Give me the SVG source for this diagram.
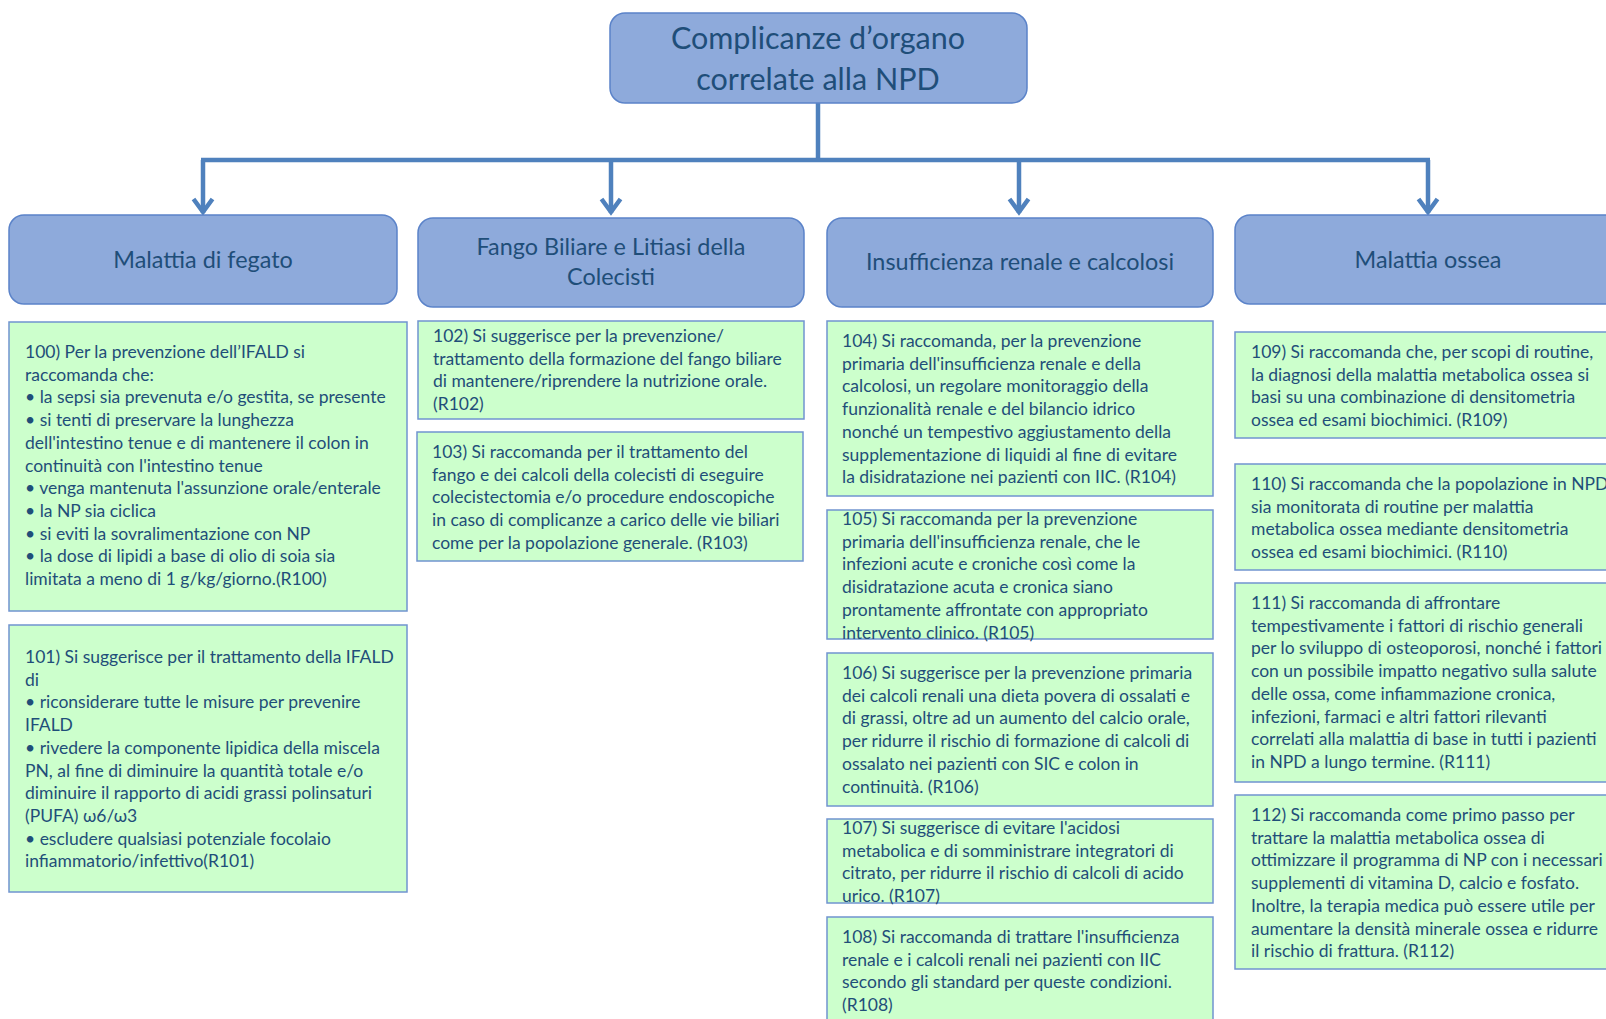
<svg xmlns="http://www.w3.org/2000/svg" width="1606" height="1019" viewBox="0 0 1606 1019">
  <defs>
    <style>
      .head { fill: #8eaadb; stroke: #5b83c9; stroke-width: 1.5; }
      .rec { fill: #ccffcc; stroke: #7094d0; stroke-width: 1.5; }
      .conn { fill: none; stroke: #4f81bd; stroke-width: 4.5; }
      .t { font-family: Lato, "Liberation Sans", sans-serif; fill: #1f4e79; }
      .title { font-size: 30.5px; text-anchor: middle; }
      .htxt { font-size: 23.4px; text-anchor: middle; }
      .body { font-size: 17.5px; }
    </style>
    <marker id="arrow" viewBox="-16 -12 20 24" refX="0" refY="0" markerWidth="20" markerHeight="24" markerUnits="userSpaceOnUse" orient="auto">
      <path d="M-14,-9.5 L-1,0 L-14,9.5" fill="none" stroke="#4f81bd" stroke-width="4.5"/>
    </marker>
  </defs>
  <rect width="1606" height="1019" fill="#ffffff"/>

  <!-- connectors -->
  <g id="connectors">
    <path class="conn" d="M818,103 V160"/>
    <path class="conn" d="M201,160 H1430"/>
    <path class="conn" d="M203,160 V213" marker-end="url(#arrow)"/>
    <path class="conn" d="M611,160 V213" marker-end="url(#arrow)"/>
    <path class="conn" d="M1019,160 V213" marker-end="url(#arrow)"/>
    <path class="conn" d="M1428,160 V213" marker-end="url(#arrow)"/>
  </g>

  <!-- root -->
  <g id="root">
    <rect class="head" x="610" y="13" width="417" height="90" rx="15"/>
    <text class="t title" x="818" y="49">Complicanze d’organo</text>
    <text class="t title" x="818" y="90">correlate alla NPD</text>
  </g>

  <!-- category headers -->
  <g id="cat-fegato">
    <rect class="head" x="9" y="215" width="388" height="89" rx="15"/>
    <text class="t htxt" x="203" y="268">Malattia di fegato</text>
  </g>
  <g id="cat-biliare">
    <rect class="head" x="418" y="218" width="386" height="89" rx="15"/>
    <text class="t htxt" x="611" y="255">Fango Biliare e Litiasi della</text>
    <text class="t htxt" x="611" y="285">Colecisti</text>
  </g>
  <g id="cat-renale">
    <rect class="head" x="827" y="218" width="386" height="89" rx="15"/>
    <text class="t htxt" x="1020" y="270">Insufficienza renale e calcolosi</text>
  </g>
  <g id="cat-ossea">
    <rect class="head" x="1235" y="215" width="388" height="89" rx="15"/>
    <text class="t htxt" x="1428" y="268">Malattia ossea</text>
  </g>

  <!-- recommendations -->
  <g id="r100">
    <rect class="rec" x="9" y="322" width="398" height="289"/>
    <text class="t body" x="25" y="358">
      <tspan x="25">100) Per la prevenzione dell’IFALD si</tspan>
      <tspan x="25" dy="22.7">raccomanda che:</tspan>
      <tspan x="25" dy="22.7">• la sepsi sia prevenuta e/o gestita, se presente</tspan>
      <tspan x="25" dy="22.7">• si tenti di preservare la lunghezza</tspan>
      <tspan x="25" dy="22.7">dell'intestino tenue e di mantenere il colon in</tspan>
      <tspan x="25" dy="22.7">continuità con l'intestino tenue</tspan>
      <tspan x="25" dy="22.7">• venga mantenuta l'assunzione orale/enterale</tspan>
      <tspan x="25" dy="22.7">• la NP sia ciclica</tspan>
      <tspan x="25" dy="22.7">• si eviti la sovralimentazione con NP</tspan>
      <tspan x="25" dy="22.7">• la dose di lipidi a base di olio di soia sia</tspan>
      <tspan x="25" dy="22.7">limitata a meno di 1 g/kg/giorno.(R100)</tspan>
    </text>
  </g>
  <g id="r101">
    <rect class="rec" x="9" y="625" width="398" height="267"/>
    <text class="t body" x="25" y="663">
      <tspan x="25">101) Si suggerisce per il trattamento della IFALD</tspan>
      <tspan x="25" dy="22.7">di</tspan>
      <tspan x="25" dy="22.7">• riconsiderare tutte le misure per prevenire</tspan>
      <tspan x="25" dy="22.7">IFALD</tspan>
      <tspan x="25" dy="22.7">• rivedere la componente lipidica della miscela</tspan>
      <tspan x="25" dy="22.7">PN, al fine di diminuire la quantità totale e/o</tspan>
      <tspan x="25" dy="22.7">diminuire il rapporto di acidi grassi polinsaturi</tspan>
      <tspan x="25" dy="22.7">(PUFA) ω6/ω3</tspan>
      <tspan x="25" dy="22.7">• escludere qualsiasi potenziale focolaio</tspan>
      <tspan x="25" dy="22.7">infiammatorio/infettivo(R101)</tspan>
    </text>
  </g>
  <g id="r102">
    <rect class="rec" x="418" y="321" width="386" height="98"/>
    <text class="t body" x="433" y="342">
      <tspan x="433">102) Si suggerisce per la prevenzione/</tspan>
      <tspan x="433" dy="22.7">trattamento della formazione del fango biliare</tspan>
      <tspan x="433" dy="22.7">di mantenere/riprendere la nutrizione orale.</tspan>
      <tspan x="433" dy="22.7">(R102)</tspan>
    </text>
  </g>
  <g id="r103">
    <rect class="rec" x="417" y="432" width="386" height="129"/>
    <text class="t body" x="432" y="458">
      <tspan x="432">103) Si raccomanda per il trattamento del</tspan>
      <tspan x="432" dy="22.7">fango e dei calcoli della colecisti di eseguire</tspan>
      <tspan x="432" dy="22.7">colecistectomia e/o procedure endoscopiche</tspan>
      <tspan x="432" dy="22.7">in caso di complicanze a carico delle vie biliari</tspan>
      <tspan x="432" dy="22.7">come per la popolazione generale. (R103)</tspan>
    </text>
  </g>
  <g id="r104">
    <rect class="rec" x="827" y="321" width="386" height="175"/>
    <text class="t body" x="842" y="347">
      <tspan x="842">104) Si raccomanda, per la prevenzione</tspan>
      <tspan x="842" dy="22.7">primaria dell'insufficienza renale e della</tspan>
      <tspan x="842" dy="22.7">calcolosi, un regolare monitoraggio della</tspan>
      <tspan x="842" dy="22.7">funzionalità renale e del bilancio idrico</tspan>
      <tspan x="842" dy="22.7">nonché un tempestivo aggiustamento della</tspan>
      <tspan x="842" dy="22.7">supplementazione di liquidi al fine di evitare</tspan>
      <tspan x="842" dy="22.7">la disidratazione nei pazienti con IIC. (R104)</tspan>
    </text>
  </g>
  <g id="r105">
    <rect class="rec" x="827" y="510" width="386" height="129"/>
    <text class="t body" x="842" y="525">
      <tspan x="842">105) Si raccomanda per la prevenzione</tspan>
      <tspan x="842" dy="22.7">primaria dell'insufficienza renale, che le</tspan>
      <tspan x="842" dy="22.7">infezioni acute e croniche così come la</tspan>
      <tspan x="842" dy="22.7">disidratazione acuta e cronica siano</tspan>
      <tspan x="842" dy="22.7">prontamente affrontate con appropriato</tspan>
      <tspan x="842" dy="22.7">intervento clinico. (R105)</tspan>
    </text>
  </g>
  <g id="r106">
    <rect class="rec" x="827" y="653" width="386" height="153"/>
    <text class="t body" x="842" y="679">
      <tspan x="842">106) Si suggerisce per la prevenzione primaria</tspan>
      <tspan x="842" dy="22.7">dei calcoli renali una dieta povera di ossalati e</tspan>
      <tspan x="842" dy="22.7">di grassi, oltre ad un aumento del calcio orale,</tspan>
      <tspan x="842" dy="22.7">per ridurre il rischio di formazione di calcoli di</tspan>
      <tspan x="842" dy="22.7">ossalato nei pazienti con SIC e colon in</tspan>
      <tspan x="842" dy="22.7">continuità. (R106)</tspan>
    </text>
  </g>
  <g id="r107">
    <rect class="rec" x="827" y="819" width="386" height="84"/>
    <text class="t body" x="842" y="834">
      <tspan x="842">107) Si suggerisce di evitare l'acidosi</tspan>
      <tspan x="842" dy="22.7">metabolica e di somministrare integratori di</tspan>
      <tspan x="842" dy="22.7">citrato, per ridurre il rischio di calcoli di acido</tspan>
      <tspan x="842" dy="22.7">urico. (R107)</tspan>
    </text>
  </g>
  <g id="r108">
    <rect class="rec" x="827" y="917" width="386" height="110"/>
    <text class="t body" x="842" y="943">
      <tspan x="842">108) Si raccomanda di trattare l'insufficienza</tspan>
      <tspan x="842" dy="22.7">renale e i calcoli renali nei pazienti con IIC</tspan>
      <tspan x="842" dy="22.7">secondo gli standard per queste condizioni.</tspan>
      <tspan x="842" dy="22.7">(R108)</tspan>
    </text>
  </g>
  <g id="r109">
    <rect class="rec" x="1235" y="332" width="388" height="106"/>
    <text class="t body" x="1251" y="358">
      <tspan x="1251">109) Si raccomanda che, per scopi di routine,</tspan>
      <tspan x="1251" dy="22.7">la diagnosi della malattia metabolica ossea si</tspan>
      <tspan x="1251" dy="22.7">basi su una combinazione di densitometria</tspan>
      <tspan x="1251" dy="22.7">ossea ed esami biochimici. (R109)</tspan>
    </text>
  </g>
  <g id="r110">
    <rect class="rec" x="1235" y="464" width="388" height="106"/>
    <text class="t body" x="1251" y="490">
      <tspan x="1251">110) Si raccomanda che la popolazione in NPD</tspan>
      <tspan x="1251" dy="22.7">sia monitorata di routine per malattia</tspan>
      <tspan x="1251" dy="22.7">metabolica ossea mediante densitometria</tspan>
      <tspan x="1251" dy="22.7">ossea ed esami biochimici. (R110)</tspan>
    </text>
  </g>
  <g id="r111">
    <rect class="rec" x="1235" y="583" width="388" height="199"/>
    <text class="t body" x="1251" y="609">
      <tspan x="1251">111) Si raccomanda di affrontare</tspan>
      <tspan x="1251" dy="22.7">tempestivamente i fattori di rischio generali</tspan>
      <tspan x="1251" dy="22.7">per lo sviluppo di osteoporosi, nonché i fattori</tspan>
      <tspan x="1251" dy="22.7">con un possibile impatto negativo sulla salute</tspan>
      <tspan x="1251" dy="22.7">delle ossa, come infiammazione cronica,</tspan>
      <tspan x="1251" dy="22.7">infezioni, farmaci e altri fattori rilevanti</tspan>
      <tspan x="1251" dy="22.7">correlati alla malattia di base in tutti i pazienti</tspan>
      <tspan x="1251" dy="22.7">in NPD a lungo termine. (R111)</tspan>
    </text>
  </g>
  <g id="r112">
    <rect class="rec" x="1235" y="795" width="388" height="174"/>
    <text class="t body" x="1251" y="821">
      <tspan x="1251">112) Si raccomanda come primo passo per</tspan>
      <tspan x="1251" dy="22.7">trattare la malattia metabolica ossea di</tspan>
      <tspan x="1251" dy="22.7">ottimizzare il programma di NP con i necessari</tspan>
      <tspan x="1251" dy="22.7">supplementi di vitamina D, calcio e fosfato.</tspan>
      <tspan x="1251" dy="22.7">Inoltre, la terapia medica può essere utile per</tspan>
      <tspan x="1251" dy="22.7">aumentare la densità minerale ossea e ridurre</tspan>
      <tspan x="1251" dy="22.7">il rischio di frattura. (R112)</tspan>
    </text>
  </g>
</svg>
